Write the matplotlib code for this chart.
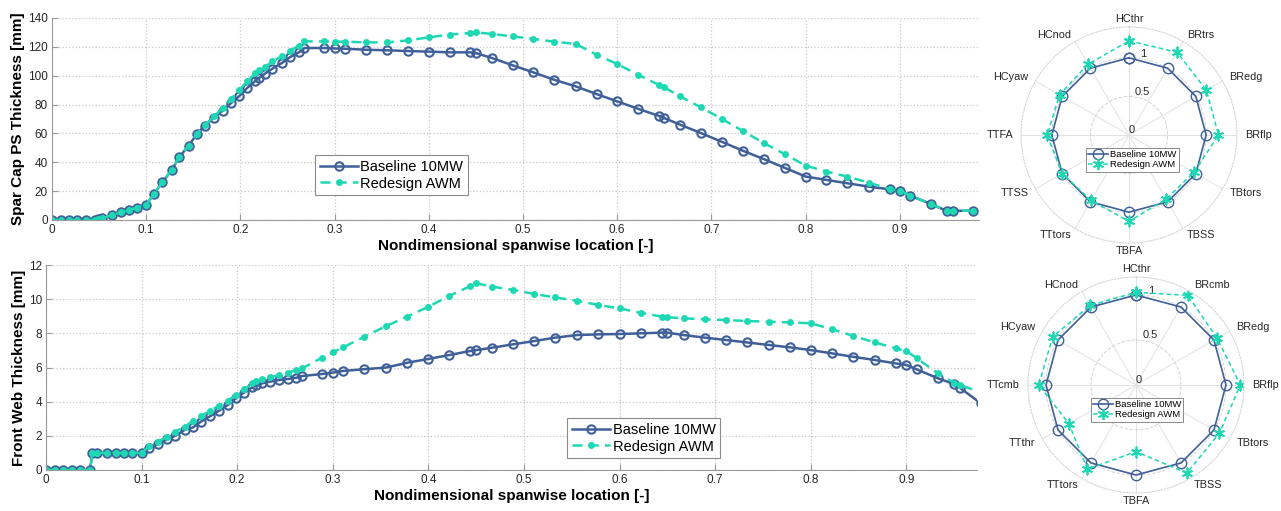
import numpy as np
import matplotlib.pyplot as plt

plt.rcParams['font.family'] = ['Liberation Sans', 'DejaVu Sans']

# spanwise stations (nondimensional)
span = [0, 0.0099, 0.018, 0.027, 0.036, 0.046, 0.0486, 0.053, 0.064, 0.073,
        0.082, 0.090, 0.100, 0.108, 0.117, 0.127, 0.135, 0.145, 0.154, 0.162,
        0.172, 0.181, 0.190, 0.199, 0.207, 0.216, 0.220, 0.226, 0.234, 0.244,
        0.253, 0.262, 0.268, 0.289, 0.300, 0.311, 0.333, 0.356, 0.378, 0.400,
        0.422, 0.444, 0.450, 0.467, 0.489, 0.511, 0.533, 0.556, 0.578, 0.600,
        0.622, 0.644, 0.650, 0.667, 0.689, 0.711, 0.733, 0.756, 0.778, 0.800,
        0.822, 0.844, 0.867, 0.889, 0.900, 0.911, 0.933, 0.950, 0.956, 0.978]

# spar cap pressure side thickness [mm]
sparcap_base = [0, 0, 0, 0, 0, 0, 0.4, 1.2, 3.5, 5.3,
                6.9, 8.6, 10.4, 18, 26, 34.5, 43.5, 51.5, 59.7, 65.3,
                71, 75.8, 81, 86, 91.4, 96.5, 98.5, 101.4, 104.9, 108.8,
                113, 116.2, 119.2, 119.2, 118.9, 118.7, 118, 117.6, 117.1, 116.7,
                116.2, 116.2, 115.7, 112.3, 107.2, 102.3, 97.2, 92.6, 87.3, 82.2,
                77.1, 72.2, 70.6, 66, 60.2, 54.2, 48.1, 42.1, 36.1, 30.1,
                27.8, 25.5, 23.1, 21.3, 20.4, 16.9, 11.1, 6.3, 6.3, 6.5]
sparcap_awm = [0, 0, 0, 0, 0, 0, 0.5, 1.2, 3.5, 5.3,
               6.9, 8.6, 10.4, 18, 26, 34.5, 43.5, 51.5, 59.7, 65.5,
               71.8, 77.5, 83.8, 90.3, 96, 101.9, 103.7, 106, 110, 113.4,
               117.4, 120.8, 123.8, 123.8, 123.6, 123.6, 123.1, 123.1, 124.5, 126.6,
               128.5, 129.6, 130.1, 128.9, 127.3, 125.5, 123.6, 122, 114.6, 108.1,
               100.7, 93.7, 91.9, 85.6, 78, 70.1, 61.8, 53.2, 45.6, 37.7,
               33.6, 30.1, 25.9, 21.5, 20.4, 16.9, 11.1, 6.3, 6.3, 6.5]

# front web thickness [mm]
web_base = [0, 0, 0, 0, 0, 0, 1.0, 1.0, 1.0, 1.0,
            1.0, 1.0, 1.0, 1.27, 1.52, 1.8, 2.0, 2.34, 2.5, 2.83,
            3.16, 3.47, 3.8, 4.2, 4.53, 4.84, 4.95, 5.07, 5.17, 5.27,
            5.33, 5.4, 5.5, 5.62, 5.7, 5.8, 5.9, 6.0, 6.28, 6.5,
            6.73, 6.97, 7.02, 7.16, 7.36, 7.55, 7.75, 7.9, 7.94, 7.96,
            8.0, 8.04, 8.04, 7.9, 7.75, 7.61, 7.47, 7.32, 7.18, 7.02,
            6.83, 6.63, 6.44, 6.24, 6.15, 5.89, 5.37, 5.03, 4.82, 3.9]
web_awm = [0, 0, 0, 0, 0, 0, 1.0, 1.0, 1.0, 1.0,
           1.0, 1.0, 1.0, 1.4, 1.66, 1.95, 2.24, 2.54, 2.87, 3.16,
           3.47, 3.77, 4.06, 4.39, 4.72, 5.07, 5.2, 5.3, 5.42, 5.56,
           5.7, 5.85, 5.95, 6.58, 6.89, 7.18, 7.8, 8.43, 8.98, 9.56,
           10.19, 10.77, 10.93, 10.73, 10.54, 10.3, 10.1, 9.9, 9.66, 9.46,
           9.2, 8.98, 8.94, 8.88, 8.82, 8.78, 8.72, 8.68, 8.64, 8.59,
           8.25, 7.86, 7.47, 7.12, 6.97, 6.54, 5.66, 5.11, 4.98, 4.55]

# normalised load channels (radar plots)
radar1_labels = ['HCthr', 'BRtrs', 'BRedg', 'BRflp', 'TBtors', 'TBSS',
                 'TBFA', 'TTtors', 'TTSS', 'TTFA', 'HCyaw', 'HCnod']
radar1_base = [1, 1, 1, 1, 1, 1, 1, 1, 1, 1, 1, 1]
radar1_awm = [1.22, 1.24, 1.16, 1.16, 0.97, 0.96, 1.12, 0.98, 1.0, 1.06, 1.04, 1.06]

radar2_labels = ['HCthr', 'BRcmb', 'BRedg', 'BRflp', 'TBtors', 'TBSS',
                 'TBFA', 'TTtors', 'TTthr', 'TTcmb', 'HCyaw', 'HCnod']
radar2_base = [1, 1, 1, 1, 1, 1, 1, 1, 1, 1, 1, 1]
radar2_awm = [1.03, 1.15, 1.04, 1.16, 1.07, 1.13, 0.74, 1.08, 0.86, 1.08, 1.07, 1.02]

blue = '#3F5F98'
teal = '#1ED8B4'
grey_txt = '#262626'

fig = plt.figure(figsize=(12.81, 5.11), dpi=100)


def style_line_axes(ax, ylabel, xmax, yticks):
    ax.set_xlim(0, xmax)
    ax.set_ylim(yticks[0], yticks[-1])
    ax.set_xticks(np.arange(0, 1.0, 0.1))
    ax.set_xticklabels(['0'] + ['%.1f' % v for v in np.arange(0.1, 1.0, 0.1)])
    ax.set_yticks(yticks)
    ax.grid(True, color='#c8c8c8', linestyle=':', linewidth=0.9)
    ax.set_axisbelow(True)
    for s in ['top', 'right']:
        ax.spines[s].set_visible(False)
    for s in ['left', 'bottom']:
        ax.spines[s].set_color('#9a9a9a')
        ax.spines[s].set_linewidth(0.8)
    ax.tick_params(direction='in', length=4, color='#9a9a9a',
                   labelsize=8.5, labelcolor=grey_txt, pad=3)
    ax.set_xlabel('Nondimensional spanwise location [-]', fontsize=11,
                  fontweight='bold', labelpad=2)
    ax.set_ylabel(ylabel, fontsize=11, fontweight='bold', labelpad=2)


def draw_lines(ax, base, awm, legend_xy):
    ax.plot(span, base, '-o', color=blue, lw=1.8, ms=6, mfc='none',
            mew=1.5, label='Baseline 10MW', clip_on=True)
    ax.plot(span, awm, '--o', color=teal, lw=1.8, ms=5, mfc=teal,
            mew=0, dashes=(4, 2.5), label='Redesign AWM', clip_on=True)
    leg = ax.legend(loc='lower left', bbox_to_anchor=legend_xy, fontsize=10.5,
                    handlelength=2.6, handletextpad=0.2, borderpad=0.3,
                    labelspacing=0.2, fancybox=False, framealpha=1,
                    edgecolor='#8a8a8a', borderaxespad=0)
    leg.get_frame().set_linewidth(0.8)


# top: spar cap
ax1 = fig.add_axes([52 / 1281, 1 - 220 / 511, 927 / 1281, 202 / 511])
draw_lines(ax1, sparcap_base, sparcap_awm, (0.284, 0.124))
style_line_axes(ax1, 'Spar Cap PS Thickness [mm]', 0.984, np.arange(0, 141, 20))

# bottom: front web
ax2 = fig.add_axes([46 / 1281, 1 - 470 / 511, 931 / 1281, 205 / 511])
draw_lines(ax2, web_base, web_awm, (0.56, 0.059))
style_line_axes(ax2, 'Front Web Thickness [mm]', 0.974, np.arange(0, 13, 2))

asterisk = (6, 2, 0)


def draw_radar(cx, cy, labels, base, awm, rmax, legend_xy):
    rad = 108
    ax = fig.add_axes([(cx - rad) / 1281, 1 - (cy + rad) / 511,
                       2 * rad / 1281, 2 * rad / 511], projection='polar')
    ax.set_theta_zero_location('N')
    ax.set_theta_direction(-1)
    theta = np.deg2rad(np.arange(len(labels)) * 360 / len(labels))
    th = np.append(theta, theta[0])
    ax.plot(th, base + base[:1], '-', marker='o', color=blue, lw=1.2, ms=7.5,
            mfc='none', mew=1.0, label='Baseline 10MW')
    ax.plot(th, awm + awm[:1], '--', marker=asterisk, color=teal, lw=1.1,
            ms=8, mew=1.3, dashes=(3, 2), label='Redesign AWM')
    ax.set_ylim(0, rmax)
    ax.set_xticks(theta)
    ax.set_xticklabels([])
    # category labels placed just outside the outer ring
    r_lab = rmax * 116 / rad
    for t, lab in zip(theta, labels):
        s = np.sin(t)
        ha = 'center' if abs(s) < 0.1 else ('left' if s > 0 else 'right')
        ax.text(t, r_lab, lab, ha=ha, va='center', fontsize=7.8,
                color=grey_txt)
    ax.set_yticks([0, 0.5, 1])
    ax.set_yticklabels(['0', '0.5', '1'], fontsize=8, color=grey_txt)
    ax.set_rlabel_position(8)
    ax.xaxis.grid(True, color='#e2e2e2', linewidth=0.7, linestyle='-')
    ax.yaxis.grid(True, color='#d4d4d4', linewidth=0.7, linestyle='--')
    ax.spines['polar'].set_color('#d4d4d4')
    ax.spines['polar'].set_linestyle(':')
    ax.spines['polar'].set_linewidth(0.8)
    ax.set_facecolor('none')
    leg = ax.legend(loc='lower left', bbox_to_anchor=legend_xy,
                    bbox_transform=ax.transAxes, fontsize=6.8,
                    handlelength=2.1, handletextpad=0.2, borderpad=0.25,
                    labelspacing=0.1, fancybox=False, framealpha=1,
                    edgecolor='#8a8a8a', borderaxespad=0)
    leg.get_frame().set_linewidth(0.7)
    return ax


draw_radar(1129, 135, radar1_labels, radar1_base, radar1_awm, 1.4, (0.30, 0.33))
draw_radar(1136, 385, radar2_labels, radar2_base, radar2_awm, 1.2, (0.29, 0.33))

fig.savefig('out.png', dpi=100)
